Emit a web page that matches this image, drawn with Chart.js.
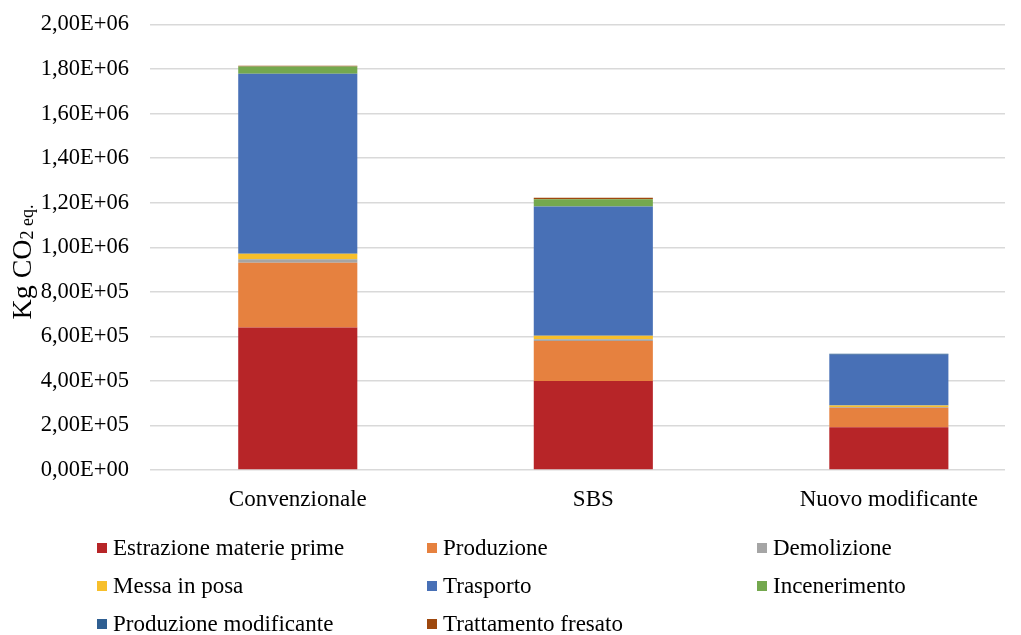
<!DOCTYPE html>
<html>
<head>
<meta charset="utf-8">
<script src="https://cdn.jsdelivr.net/npm/chart.js@4"></script>
<style>
  body { margin: 0; background: #fff; }
  #wrap { position: relative; width: 1021px; height: 635px; overflow: hidden; }
  #box { position: absolute; left: 0; top: -10px; width: 1021px; height: 530px; }
  #legenda { position: absolute; left: 0; top: 0; width: 1021px; height: 635px;
    font-family: 'Liberation Serif', 'Times New Roman', serif; font-size: 23px; color: #000; }
  .voce { position: absolute; display: flex; align-items: center; height: 38px; white-space: nowrap; }
  .quad { width: 10px; height: 10px; margin-right: 6px; }
</style>
</head>
<body>
<div id="wrap">
  <div id="box"><canvas id="grafico"></canvas></div>
  <div id="legenda"></div>
</div>
<script>
const categorie = ['Convenzionale', 'SBS', 'Nuovo modificante'];

const estrazione      = [640000, 400000, 192000];
const produzione      = [290000, 179000, 88000];
const demolizione     = [16000, 7500, 3000];
const messaInPosa     = [25000, 16000, 7000];
const trasporto       = [808000, 580000, 227000];
const incenerimento   = [33000, 33000, 0];
const prodModificante = [0, 0, 5000];
const fresato         = [3000, 7000, 0];

const fasi = ['Estrazione materie prime', 'Produzione', 'Demolizione', 'Messa in posa',
  'Trasporto', 'Incenerimento', 'Produzione modificante', 'Trattamento fresato'];
const serie = [estrazione, produzione, demolizione, messaInPosa, trasporto, incenerimento, prodModificante, fresato];
const colori = ['#b72528', '#e6813f', '#a5a5a5', '#f7bf2b', '#4870b6', '#74a84e', '#2f5f92', '#9e480e'];

const yTicks = [0, 200000, 400000, 600000, 800000, 1000000, 1200000, 1400000, 1600000, 1800000, 2000000];

const FONT = "'Liberation Serif', 'Times New Roman', serif";

function formatoE(v) {
  if (v === 0) return '0,00E+00';
  const e = Math.floor(Math.log10(v) + 1e-9);
  const m = v / Math.pow(10, e);
  return m.toFixed(2).replace('.', ',') + 'E+' + String(e).padStart(2, '0');
}

// etichetta asse y con pedici
const titoloY = {
  id: 'titoloY',
  afterDraw(chart) {
    const c = chart.ctx;
    c.save();
    c.translate(31, 272);
    c.rotate(-Math.PI / 2);
    c.fillStyle = '#000';
    c.textBaseline = 'alphabetic';
    c.font = '28px ' + FONT;
    const w1 = c.measureText('Kg CO').width;
    c.font = '18px ' + FONT;
    const w2 = c.measureText('2').width;
    const w3 = c.measureText(' eq.').width;
    let x = -(w1 + w2 + w3) / 2;
    c.font = '28px ' + FONT;
    c.fillText('Kg CO', x, 0);
    x += w1;
    c.font = '18px ' + FONT;
    c.fillText('2', x, 2);
    x += w2;
    c.fillText(' eq.', x, 2);
    c.restore();
  }
};

const datasets = fasi.map((nome, i) => ({
  label: nome,
  data: serie[i].map((v, j) => ({ x: j, y: v })),
  backgroundColor: colori[i],
  borderWidth: 0,
  categoryPercentage: 1,
  barPercentage: 0.403
}));

new Chart(document.getElementById('grafico'), {
  type: 'bar',
  data: { datasets },
  plugins: [titoloY],
  options: {
    responsive: true,
    maintainAspectRatio: false,
    animation: false,
    layout: { padding: { left: 0, top: 13, right: 16, bottom: 0 } },
    plugins: { legend: { display: false }, tooltip: { enabled: false } },
    scales: {
      x: {
        type: 'linear',
        stacked: true,
        offset: false,
        min: -0.5,
        max: 2.393,
        grid: { display: false, offset: false },
        border: { display: false },
        afterBuildTicks: (s) => { s.ticks = [0, 1, 2].map(v => ({ value: v })); },
        afterFit: (s) => { s.height = 50; },
        ticks: {
          autoSkip: false,
          maxRotation: 0,
          padding: 8,
          color: '#000',
          font: { family: FONT, size: 23 },
          callback: (v) => categorie[v]
        }
      },
      y: {
        stacked: true,
        min: 0,
        max: 2000000,
        afterBuildTicks: (s) => { s.ticks = yTicks.map(v => ({ value: v })); },
        afterFit: (s) => { s.width = 150; },
        grid: { color: '#d9d9d9', lineWidth: 1.5, drawTicks: false },
        border: { display: false },
        ticks: {
          padding: 21,
          color: '#000',
          font: { family: FONT, size: 22.5 },
          callback: (v) => formatoE(v)
        }
      }
    }
  }
});

// legenda a tre colonne
const leg = document.getElementById('legenda');
fasi.forEach((nome, i) => {
  const col = i % 3, riga = Math.floor(i / 3);
  const d = document.createElement('div');
  d.className = 'voce';
  d.style.left = (97 + col * 330) + 'px';
  d.style.top = (529 + riga * 38) + 'px';
  d.innerHTML = '<span class="quad" style="background:' + colori[i] + '"></span><span>' + nome + '</span>';
  leg.appendChild(d);
});
</script>
</body>
</html>
